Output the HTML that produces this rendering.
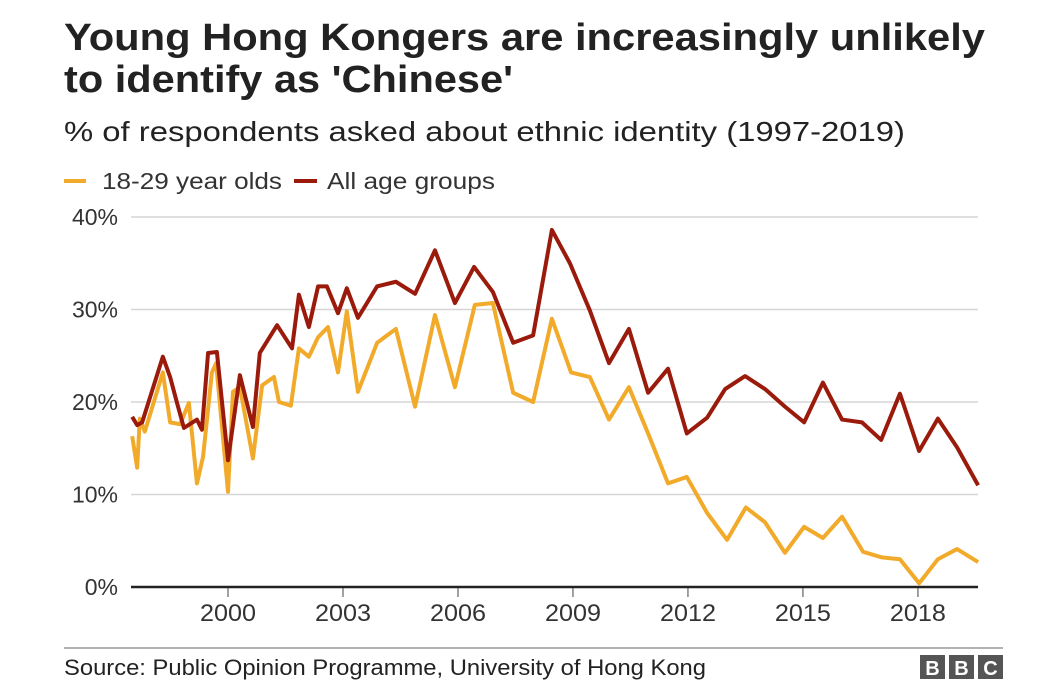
<!DOCTYPE html>
<html><head><meta charset="utf-8"><style>
body{margin:0;background:#fff;}
svg{display:block;font-family:"Liberation Sans",Arial,sans-serif;}
</style></head><body>
<svg id="chart" width="1056" height="699" viewBox="0 0 1056 699">
<text x="64" y="50" font-size="38" font-weight="bold" fill="#222" textLength="921" lengthAdjust="spacingAndGlyphs">Young Hong Kongers are increasingly unlikely</text>
<text x="64" y="92" font-size="38" font-weight="bold" fill="#222" textLength="449" lengthAdjust="spacingAndGlyphs">to identify as 'Chinese'</text>
<text x="64" y="141" font-size="28" fill="#222" textLength="841" lengthAdjust="spacingAndGlyphs">% of respondents asked about ethnic identity (1997-2019)</text>
<g>
<rect x="64" y="179" width="22" height="4" fill="#f2aa2b"/>
<text x="102" y="189" font-size="23" fill="#333" textLength="180" lengthAdjust="spacingAndGlyphs">18-29 year olds</text>
<rect x="294" y="179" width="23" height="4" fill="#9a1a0b"/>
<text x="327" y="189" font-size="23" fill="#333" textLength="168" lengthAdjust="spacingAndGlyphs">All age groups</text>
</g>
<g id="grid"></g><g id="axes"></g><g id="lines"></g>
<line x1="64" y1="648" x2="1003" y2="648" stroke="#999" stroke-width="1.5"/>
<text x="64" y="675" font-size="22" fill="#222" textLength="642" lengthAdjust="spacingAndGlyphs">Source: Public Opinion Programme, University of Hong Kong</text>
<g>
<rect x="920" y="655" width="25" height="24" fill="#555"/><text x="932.5" y="675" font-size="20" font-weight="bold" fill="#fff" text-anchor="middle">B</text>
<rect x="949" y="655" width="25" height="24" fill="#555"/><text x="961.5" y="675" font-size="20" font-weight="bold" fill="#fff" text-anchor="middle">B</text>
<rect x="978" y="655" width="25" height="24" fill="#555"/><text x="990.5" y="675" font-size="20" font-weight="bold" fill="#fff" text-anchor="middle">C</text>
</g>
</svg>
<script>
const yTicks=[0,10,20,30,40];
const xTicks=[2000,2003,2006,2009,2012,2015,2018];
const allYears=[1997.50,1997.63,1997.76,1998.30,1998.49,1998.67,1998.85,1999.19,1999.32,1999.48,1999.71,2000.00,2000.31,2000.65,2000.83,2001.28,2001.67,2001.85,2002.11,2002.35,2002.58,2002.87,2003.10,2003.39,2003.89,2004.38,2004.88,2005.40,2005.92,2006.42,2006.91,2007.44,2007.96,2008.45,2008.92,2009.44,2009.94,2010.46,2010.96,2011.48,2011.97,2012.50,2012.97,2013.49,2014.01,2014.53,2015.03,2015.52,2016.02,2016.54,2017.04,2017.53,2018.03,2018.52,2019.02,2019.57];
const allValues=[18.4,17.5,17.8,24.9,22.7,19.9,17.2,18.1,17.0,25.3,25.4,13.7,22.9,17.3,25.3,28.3,25.8,31.6,28.1,32.5,32.5,29.6,32.3,29.1,32.5,33.0,31.7,36.4,30.7,34.6,31.9,26.4,27.2,38.6,35.0,29.9,24.2,27.9,21.0,23.6,16.6,18.3,21.4,22.8,21.4,19.5,17.8,22.1,18.1,17.8,15.9,20.9,14.7,18.2,15.1,11.0];
const youngYears=[1997.50,1997.63,1997.70,1997.83,1998.30,1998.49,1998.75,1998.98,1999.19,1999.35,1999.58,1999.69,2000.00,2000.13,2000.31,2000.65,2000.89,2001.20,2001.33,2001.64,2001.85,2002.11,2002.35,2002.61,2002.87,2003.10,2003.39,2003.89,2004.38,2004.88,2005.40,2005.92,2006.44,2006.91,2007.44,2007.96,2008.45,2008.95,2009.44,2009.94,2010.46,2010.96,2011.48,2011.97,2012.50,2013.02,2013.51,2014.01,2014.53,2015.03,2015.52,2016.02,2016.57,2017.06,2017.53,2018.03,2018.52,2019.02,2019.57];
const youngValues=[16.3,12.9,18.2,16.8,23.2,17.8,17.6,19.9,11.2,14.1,23.2,24.2,10.3,21.1,21.6,13.9,21.8,22.7,20.0,19.6,25.8,24.9,27.0,28.1,23.2,29.8,21.1,26.4,27.9,19.5,29.4,21.6,30.5,30.7,21.0,20.0,29.0,23.2,22.7,18.1,21.6,16.6,11.2,11.9,8.0,5.1,8.6,7.0,3.7,6.5,5.3,7.6,3.8,3.2,3.0,0.4,3.0,4.1,2.7];
const NS='http://www.w3.org/2000/svg';
const x=yr=>228+(yr-2000)*38.33;
const y=v=>587-v*9.25;
function mk(tag,attrs,parent){const e=document.createElementNS(NS,tag);for(const k in attrs)e.setAttribute(k,attrs[k]);document.getElementById(parent).appendChild(e);return e;}
yTicks.forEach(t=>{
  if(t>0){const g=mk('line',{x1:131,x2:978,y1:y(t),y2:y(t),stroke:'#d6d6d6','stroke-width':1.5},'grid');
  
  }
  const l=mk('text',{x:118,y:y(t)+8,'font-size':23,fill:'#333','text-anchor':'end'},'axes');
  l.textContent=t+'%';
  
  
});
const ax=mk('line',{x1:131,x2:978,y1:587,y2:587,stroke:'#222','stroke-width':2.5},'axes');


xTicks.forEach(t=>{
  const tk=mk('line',{x1:x(t),x2:x(t),y1:588,y2:597,stroke:'#444','stroke-width':1},'axes');
  
  
  const l=mk('text',{x:x(t)-28,y:621,'font-size':24,fill:'#333',textLength:56,lengthAdjust:'spacingAndGlyphs'},'axes');
  l.textContent=t;
  
  
});
function line(xs,vs,color,name){
  const p=mk('polyline',{points:xs.map((yr,i)=>x(yr)+','+y(vs[i])).join(' '),fill:'none',stroke:color,'stroke-width':4,'stroke-linejoin':'round'},'lines');
  
  
}
line(youngYears,youngValues,'#f2aa2b','line-18-29-year-olds');
line(allYears,allValues,'#9a1a0b','line-all-age-groups');
</script>
</body></html>
